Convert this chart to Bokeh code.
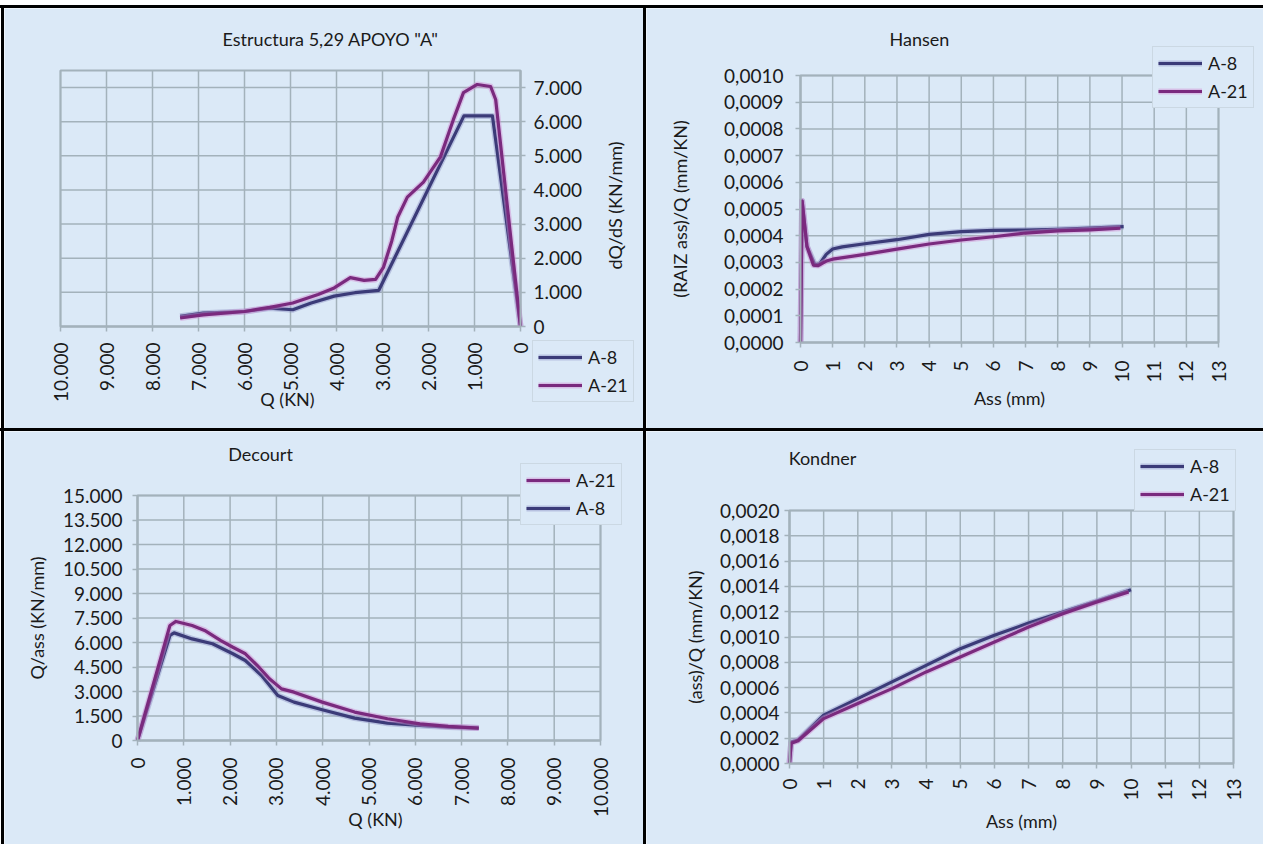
from bokeh.plotting import figure
from bokeh.models import (Range1d, FixedTicker, CustomJSTickFormatter, Legend, LegendItem,
                          Spacer, LinearAxis, Label)
from bokeh.layouts import row, column
from bokeh.embed import file_html
from bokeh.resources import INLINE
from math import pi

# ---------------- data ----------------
series_names = ["A-8", "A-21"]

# Panel 1: Estructura 5,29 APOYO "A"  (dQ/dS vs Q)
p1_q_a8 = [7400, 6900, 6000, 5450, 4950, 4550, 4050, 3600, 3080, 1230, 610, 0]
p1_v_a8 = [300, 390, 440, 540, 490, 690, 890, 990, 1060, 6170, 6170, 0]
p1_q_a21 = [7400, 6900, 6000, 5450, 4950, 4400, 4050, 3700, 3400, 3150, 2980, 2800,
            2670, 2460, 2110, 1740, 1460, 1240, 940, 650, 540, 0]
p1_v_a21 = [250, 340, 440, 560, 690, 940, 1130, 1430, 1350, 1380, 1730, 2500,
            3200, 3790, 4230, 4970, 6060, 6850, 7090, 7030, 6650, 0]
p1_xticks = [0, 1000, 2000, 3000, 4000, 5000, 6000, 7000, 8000, 9000, 10000]
p1_xlabels = ["0", "1.000", "2.000", "3.000", "4.000", "5.000", "6.000", "7.000", "8.000", "9.000", "10.000"]
p1_yticks = [0, 1000, 2000, 3000, 4000, 5000, 6000, 7000]
p1_ylabels = ["0", "1.000", "2.000", "3.000", "4.000", "5.000", "6.000", "7.000"]
p1_xlim = (10000, 0)
p1_ylim = (0, 7500)

# Panel 2: Hansen
p2_x_a8 = [0, 0.05, 0.2, 0.45, 0.6, 0.8, 1.0, 1.3, 2.0, 3.0, 4.0, 5.0, 6.0, 7.0, 8.0, 9.0, 10.05]
p2_y_a8 = [0, 0.00053, 0.00036, 0.00029, 0.000295, 0.00033, 0.00035, 0.000358, 0.00037,
           0.000385, 0.000405, 0.000415, 0.00042, 0.000421, 0.000424, 0.000428, 0.000434]
p2_x_a21 = [0, 0.05, 0.2, 0.4, 0.55, 0.8, 1.0, 2.0, 3.0, 4.0, 5.0, 6.0, 7.0, 8.0, 9.0, 9.95]
p2_y_a21 = [0, 0.00053, 0.00036, 0.00029, 0.000288, 0.000305, 0.000312, 0.00033, 0.00035,
            0.000369, 0.000384, 0.000396, 0.00041, 0.000418, 0.000422, 0.000428]
p2_xticks = list(range(0, 14))
p2_xlabels = [str(i) for i in range(0, 14)]
p2_yticks = [0, 0.0001, 0.0002, 0.0003, 0.0004, 0.0005, 0.0006, 0.0007, 0.0008, 0.0009, 0.0010]
p2_ylabels = ["0,0000", "0,0001", "0,0002", "0,0003", "0,0004", "0,0005", "0,0006",
              "0,0007", "0,0008", "0,0009", "0,0010"]
p2_xlim = (0, 13)
p2_ylim = (0, 0.0010)

# Panel 3: Decourt
p3_q_a21 = [0, 700, 830, 1180, 1450, 1800, 2060, 2330, 2590, 2850, 3110, 3380, 3990,
            4690, 5400, 6100, 6710, 7370]
p3_v_a21 = [0, 7040, 7290, 7040, 6740, 6120, 5710, 5310, 4590, 3780, 3160, 2960, 2350,
            1740, 1330, 1020, 860, 760]
p3_q_a8 = [0, 700, 790, 1180, 1620, 2060, 2330, 2680, 3030, 3380, 3990, 4690, 5400,
           6100, 6710, 7370]
p3_v_a8 = [0, 6430, 6590, 6220, 5920, 5310, 4900, 3980, 2760, 2350, 1880, 1370, 1060,
           920, 820, 760]
p3_xticks = p1_xticks
p3_xlabels = p1_xlabels
p3_yticks = [0, 1500, 3000, 4500, 6000, 7500, 9000, 10500, 12000, 13500, 15000]
p3_ylabels = ["0", "1.500", "3.000", "4.500", "6.000", "7.500", "9.000", "10.500",
              "12.000", "13.500", "15.000"]
p3_xlim = (0, 10000)
p3_ylim = (0, 15000)

# Panel 4: Kondner
p4_x_a8 = [0, 0.05, 0.25, 1, 2, 3, 4, 5, 6, 7, 8, 9, 10.0]
p4_y_a8 = [0, 0.00017, 0.000185, 0.000382, 0.000513, 0.000645, 0.000776, 0.000908,
           0.001013, 0.00111, 0.001197, 0.001284, 0.001374]
p4_x_a21 = [0, 0.05, 0.25, 1, 2, 3, 4, 5, 6, 7, 8, 9, 9.93]
p4_y_a21 = [0, 0.00016, 0.00018, 0.000355, 0.000474, 0.000592, 0.000724, 0.000842,
            0.00096, 0.001079, 0.001184, 0.001276, 0.001355]
p4_xticks = p2_xticks
p4_xlabels = p2_xlabels
p4_yticks = [0, 0.0002, 0.0004, 0.0006, 0.0008, 0.0010, 0.0012, 0.0014, 0.0016, 0.0018, 0.0020]
p4_ylabels = ["0,0000", "0,0002", "0,0004", "0,0006", "0,0008", "0,0010", "0,0012",
              "0,0014", "0,0016", "0,0018", "0,0020"]
p4_xlim = (0, 13)
p4_ylim = (0, 0.0020)

# ---------------- style ----------------
BG = "#dbe9f7"
GRID = "#a3b2bb"
TXT = "#1a1a1a"
FONT = "Lato"
FS_TICK = "19px"
FS_TXT = "18px"
C_A8 = "#3b3b78"
C_A21 = "#7a2a7e"
H_A8 = "#8c90c4"
H_A21 = "#d08ad0"

FMT_CODE = """
let best = 0, d = Infinity;
for (let i = 0; i < tvals.length; i++) {
  const e = Math.abs(tvals[i] - tick);
  if (e < d) { d = e; best = i; }
}
return tlabels[best];
"""


class Panel:
    """A figure whose frame fills its whole canvas; the plot area is placed by pixel box."""

    def __init__(self, w, h, origin, area, xlim, ylim):
        self.w, self.h = w, h
        self.ox, self.oy = origin
        gl, gt, gr, gb = area
        self.l, self.t = gl - self.ox, gt - self.oy
        self.r, self.b = gr - self.ox, gb - self.oy
        self.xlim, self.ylim = xlim, ylim
        x0, x1 = xlim
        y0, y1 = ylim
        self.sx = (x1 - x0) / (self.r - self.l)
        self.sy = (y1 - y0) / (self.b - self.t)
        xr = Range1d(x0 - self.l * self.sx, x0 + (w - self.l) * self.sx)
        yr = Range1d(y0 - (h - self.b) * self.sy, y0 + self.b * self.sy)
        p = figure(width=w, height=h, x_range=xr, y_range=yr, output_backend="svg",
                   toolbar_location=None, x_axis_location=None, y_axis_location=None,
                   min_border_left=0, min_border_right=0, min_border_top=0, min_border_bottom=0)
        p.grid.visible = False
        p.background_fill_color = BG
        p.border_fill_color = BG
        p.outline_line_color = None
        self.p = p

    def to_data(self, gx, gy):
        x0, _ = self.xlim
        y0, _ = self.ylim
        return (x0 + (gx - self.ox - self.l) * self.sx,
                y0 + (self.b - (gy - self.oy)) * self.sy)

    def grid_and_box(self, xticks, yticks):
        xa, xb = min(self.xlim), max(self.xlim)
        ya, yb = min(self.ylim), max(self.ylim)
        self.p.segment(x0=xticks, y0=[ya] * len(xticks), x1=xticks, y1=[yb] * len(xticks),
                       line_color=GRID, line_width=1.5)
        self.p.segment(x0=[xa] * len(yticks), y0=yticks, x1=[xb] * len(yticks), y1=yticks,
                       line_color=GRID, line_width=1.5)
        self.p.quad(left=[xa], right=[xb], bottom=[ya], top=[yb], fill_color=None,
                    line_color=GRID, line_width=2)

    def axis(self, dim, side, ticks, labels, title, standoff, title_standoff, at, orient=None):
        ax = LinearAxis(fixed_location=at)
        lim = self.xlim if dim == 0 else self.ylim
        ax.bounds = (min(lim), max(lim))
        ax.ticker = FixedTicker(ticks=ticks)
        ax.formatter = CustomJSTickFormatter(args=dict(tvals=ticks, tlabels=labels), code=FMT_CODE)
        ax.axis_label = title
        ax.axis_label_text_font = FONT
        ax.axis_label_text_font_size = FS_TXT
        ax.axis_label_text_font_style = "normal"
        ax.axis_label_text_color = TXT
        ax.axis_label_standoff = title_standoff
        ax.major_label_text_font = FONT
        ax.major_label_text_font_size = FS_TICK
        ax.major_label_text_color = TXT
        ax.major_label_standoff = standoff
        ax.major_tick_in = 0
        ax.major_tick_out = 5
        ax.major_tick_line_color = GRID
        ax.major_tick_line_width = 1.5
        ax.minor_tick_line_color = None
        ax.axis_line_color = GRID
        ax.axis_line_width = 2
        if orient is not None:
            ax.major_label_orientation = orient
        self.p.add_layout(ax, side)

    def text(self, gx, gy, s, angle=0.0):
        x, y = self.to_data(gx, gy)
        self.p.add_layout(Label(x=x, y=y, text=s, angle=angle, text_align="center",
                                text_baseline="middle", text_font=FONT,
                                text_font_size=FS_TXT, text_color=TXT))

    def series(self, x, y, color, halo):
        h = self.p.line(x, y, line_color=halo, line_width=6, line_alpha=0.45, line_join="round")
        c = self.p.line(x, y, line_color=color, line_width=3.2, line_join="round")
        return [h, c]

    def legend(self, items, gx_left, gy_bottom):
        lg = Legend(items=[LegendItem(label=lab, renderers=rs) for lab, rs in items],
                    location=(gx_left - self.ox, self.h - (gy_bottom - self.oy)))
        lg.background_fill_color = BG
        lg.background_fill_alpha = 1.0
        lg.border_line_color = "#bcc8d0"
        lg.border_line_width = 1.5
        lg.label_text_font = FONT
        lg.label_text_font_size = FS_TXT
        lg.label_text_color = TXT
        lg.glyph_width = 44
        lg.glyph_height = 20
        lg.label_height = 20
        lg.label_standoff = 6
        lg.padding = 5
        lg.spacing = 6
        lg.margin = 0
        self.p.add_layout(lg)


# ---------------- Panel 1 ----------------
P1 = Panel(639, 420, (4, 8), (60, 70, 520, 326), p1_xlim, p1_ylim)
P1.grid_and_box(p1_xticks, p1_yticks)
P1.axis(0, "below", p1_xticks, p1_xlabels, "", 11, 0, p1_ylim[0], orient=pi / 2)
P1.axis(1, "right", p1_yticks, p1_ylabels, "", 8, 0, p1_xlim[1])
r1a = P1.series(p1_q_a8, p1_v_a8, C_A8, H_A8)
r1b = P1.series(p1_q_a21, p1_v_a21, C_A21, H_A21)
P1.text(330, 38, 'Estructura 5,29 APOYO "A"')
P1.text(614, 205, "dQ/dS (KN/mm)", angle=pi / 2)
P1.text(287, 398, "Q (KN)")
P1.legend([(series_names[0], r1a), (series_names[1], r1b)], 532, 402)

# ---------------- Panel 2 ----------------
P2 = Panel(617, 420, (646, 8), (800, 75, 1218, 342), p2_xlim, p2_ylim)
P2.grid_and_box(p2_xticks, p2_yticks)
P2.axis(0, "below", p2_xticks, p2_xlabels, "Ass (mm)", 13, 1, p2_ylim[0], orient=pi / 2)
P2.axis(1, "left", p2_yticks, p2_ylabels, "(RAIZ ass)/Q (mm/KN)", 12, 30, p2_xlim[0])
r2a = P2.series(p2_x_a8, p2_y_a8, C_A8, H_A8)
r2b = P2.series(p2_x_a21, p2_y_a21, C_A21, H_A21)
P2.text(919, 38, "Hansen")
P2.legend([(series_names[0], r2a), (series_names[1], r2b)], 1152, 108)

# ---------------- Panel 3 ----------------
P3 = Panel(639, 413, (4, 431), (137, 495, 600, 740), p3_xlim, p3_ylim)
P3.grid_and_box(p3_xticks, p3_yticks)
P3.axis(0, "below", p3_xticks, p3_xlabels, "", 12, 0, p3_ylim[0], orient=pi / 2)
P3.axis(1, "left", p3_yticks, p3_ylabels, "Q/ass (KN/mm)", 10, 12, p3_xlim[0])
r3a = P3.series(p3_q_a8, p3_v_a8, C_A8, H_A8)
r3b = P3.series(p3_q_a21, p3_v_a21, C_A21, H_A21)
P3.text(260, 453, "Decourt")
P3.text(375, 818, "Q (KN)")
P3.legend([(series_names[1], r3b), (series_names[0], r3a)], 520, 525)

# ---------------- Panel 4 ----------------
P4 = Panel(617, 413, (646, 431), (789, 510, 1233, 763), p4_xlim, p4_ylim)
P4.grid_and_box(p4_xticks, p4_yticks)
P4.axis(0, "below", p4_xticks, p4_xlabels, "", 10, 0, p4_ylim[0], orient=pi / 2)
P4.axis(1, "left", p4_yticks, p4_ylabels, "(ass)/Q (mm/KN)", 5, 11, p4_xlim[0])
r4a = P4.series(p4_x_a8, p4_y_a8, C_A8, H_A8)
r4b = P4.series(p4_x_a21, p4_y_a21, C_A21, H_A21)
P4.text(822, 457, "Kondner")
P4.text(1021, 820, "Ass (mm)")
P4.legend([(series_names[0], r4a), (series_names[1], r4b)], 1134, 511)

# ---------------- layout with black borders ----------------
BLK = {"background-color": "black"}


def vbar(h):
    return Spacer(width=3, height=h, styles=BLK)


def hbar():
    return Spacer(width=1263, height=3, styles=BLK)


layout = column(
    Spacer(width=1263, height=5),
    hbar(),
    row(Spacer(width=1, height=420), vbar(420), P1.p, vbar(420), P2.p),
    hbar(),
    row(Spacer(width=1, height=413), vbar(413), P3.p, vbar(413), P4.p),
)

open("out.html", "w").write(file_html(layout, INLINE))
